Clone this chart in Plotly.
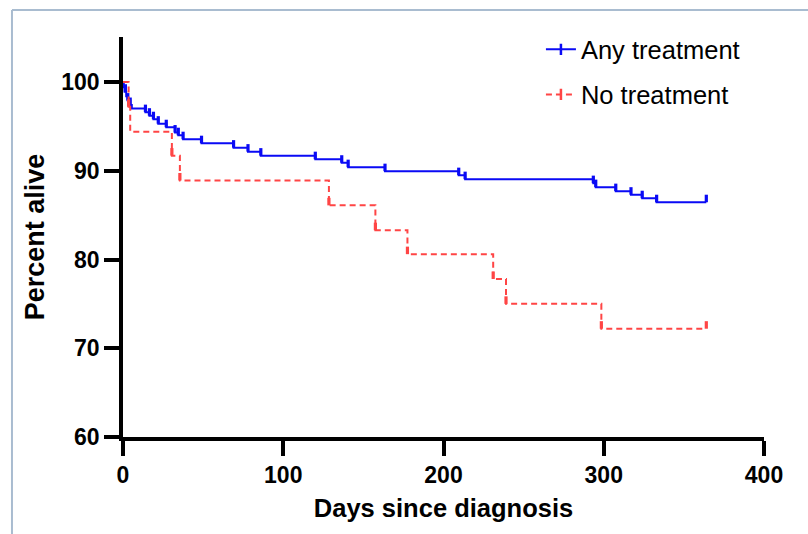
import plotly.graph_objects as go

# ---- data ----
blue_name = "Any treatment"
blue_days = [0, 0.5, 1, 2, 3, 4.5, 5.5, 14, 16.5, 19, 22, 27, 32.5, 34.5, 37.5, 49, 69, 78, 86,
             120, 136.5, 140.5, 163.5, 209.5, 213.5, 293.5, 295, 307.5, 317, 324, 333, 364]
blue_surv = [100, 99.4, 98.9, 98.4, 97.9, 97.4, 97.0, 96.6, 96.2, 95.8, 95.3, 94.9, 94.3, 94.0, 93.55, 93.1,
             92.6, 92.15, 91.7, 91.3, 90.9, 90.4, 89.95, 89.5, 89.05, 88.6, 88.15, 87.7, 87.3, 86.9, 86.45, 86.45]
blue_censor = [1.5, 3, 4.5, 14, 16.5, 19, 22, 27, 32.5, 34.5, 37.5, 49, 69, 78, 86, 120, 136.5,
               140.5, 163.5, 209.5, 213.5, 293.5, 295, 307.5, 317, 324, 333, 364]

red_name = "No treatment"
red_days = [0, 3.5, 4.5, 30.5, 35.5, 128.5, 157.5, 177.5, 231, 239, 298.5, 364]
red_surv = [100, 97.2, 94.4, 91.7, 88.9, 86.1, 83.3, 80.6, 77.8, 75.0, 72.2, 72.2]
red_censor = [3.5, 30.5, 35.5, 128.5, 157.5, 177.5, 231, 239, 298.5, 364]

x_ticks = [0, 100, 200, 300, 400]
y_ticks = [60, 70, 80, 90, 100]

BLUE = "#0A0AF5"
RED = "#FF4545"
FONT = "Liberation Sans, Arial, sans-serif"


def level_at(days, surv, t):
    v = surv[0]
    for d, s in zip(days, surv):
        if d <= t:
            v = s
    return v


fig = go.Figure()


def add_curve(name, days, surv, censor, color, dash, group):
    fig.add_trace(go.Scatter(x=days, y=surv, mode="lines", line=dict(color=color, width=2, dash=dash, shape="hv"),
                             showlegend=False, hoverinfo="skip"))
    cy = [level_at(days, surv, t) for t in censor]
    fig.add_trace(go.Scatter(x=censor, y=cy, mode="markers", marker=dict(size=1, color=color, opacity=0),
                             error_y=dict(type="data", symmetric=False, array=[0.85] * len(censor),
                                          arrayminus=[0] * len(censor), color=color, thickness=3.2, width=0),
                             showlegend=False, hoverinfo="skip"))
    fig.add_trace(go.Scatter(x=[None], y=[None], mode="lines+markers", name=name, legendgroup=group,
                             line=dict(color=color, width=2, dash=dash),
                             marker=dict(symbol="line-ns", size=8, line=dict(color=color, width=2.5))))


add_curve(blue_name, blue_days, blue_surv, blue_censor, BLUE, "solid", "a")
add_curve(red_name, red_days, red_surv, red_censor, RED, "6px,4px", "b")

axis_common = dict(showgrid=False, zeroline=False, showline=True, linecolor="black", linewidth=3.5,
                   ticks="outside", ticklen=15, tickwidth=3.5, tickcolor="black",
                   tickfont=dict(family=FONT, size=23, color="black", weight="bold"))

fig.update_layout(
    width=808, height=534,
    margin=dict(l=123, r=44, t=37, b=97),
    paper_bgcolor="white", plot_bgcolor="white",
    xaxis=dict(range=[0, 400], tickvals=x_ticks, **axis_common,
               title=dict(text="Days since diagnosis", standoff=13,
                          font=dict(family=FONT, size=25.5, color="black", weight="bold"))),
    yaxis=dict(range=[60, 105.07], tickvals=y_ticks, **axis_common,
               title=dict(text="Percent alive", standoff=10,
                          font=dict(family=FONT, size=27, color="black", weight="bold"))),
    legend=dict(x=0.652, y=1.027, xanchor="left", yanchor="top", traceorder="grouped", tracegroupgap=9,
                font=dict(family=FONT, size=25.5, color="black"), bgcolor="rgba(0,0,0,0)"),
    shapes=[
        dict(type="line", xref="paper", yref="paper", x0=-0.1732, x1=-0.1732, y0=-0.3, y1=1.0675,
             line=dict(color="#A9BCD0", width=2)),
        dict(type="line", xref="paper", yref="paper", x0=-0.1732, x1=1.1, y0=1.0675, y1=1.0675,
             line=dict(color="#A9BCD0", width=2)),
    ],
)

fig.write_html("out.html")
